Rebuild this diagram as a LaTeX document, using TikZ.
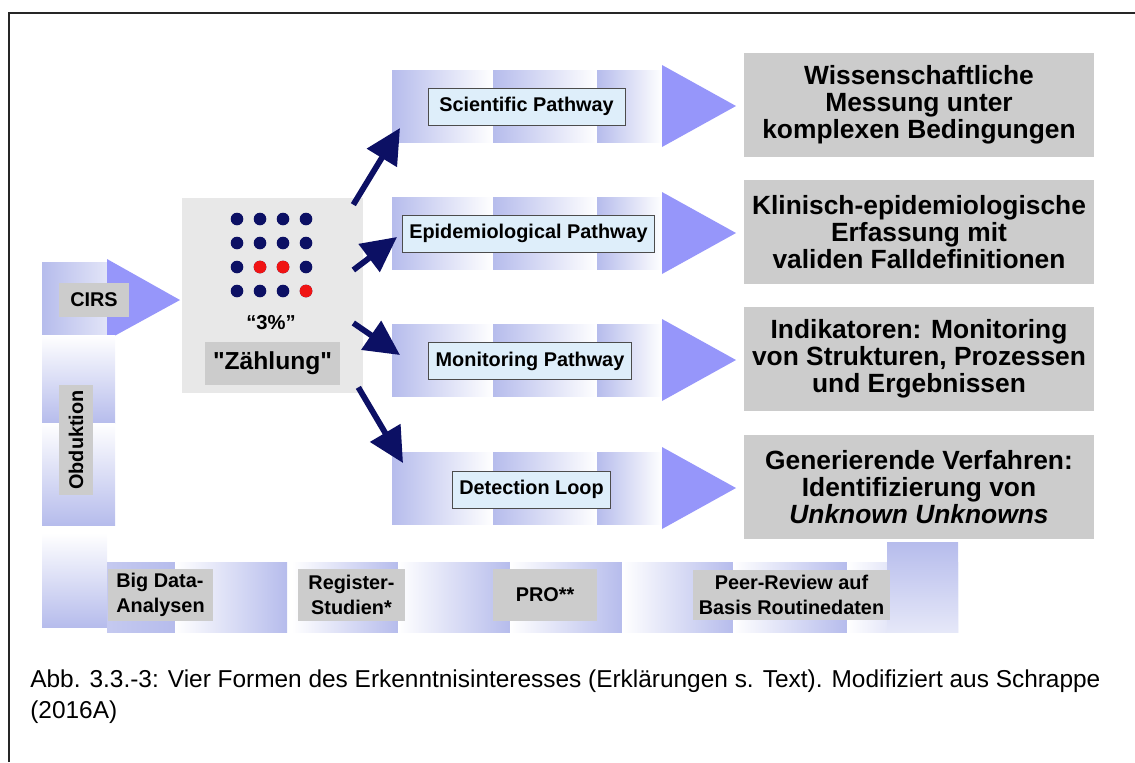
\documentclass[tikz,border=0pt]{standalone}
\usepackage{fontspec}
\setmainfont{Liberation Sans}
\usepackage{tikz}
\usetikzlibrary{arrows.meta,positioning}

\definecolor{blockblue}{RGB}{182,188,236}
\definecolor{headblue}{RGB}{150,150,250}
\definecolor{navy}{RGB}{12,16,100}
\definecolor{labelblue}{RGB}{222,238,250}
\definecolor{boxgrey}{RGB}{204,204,204}
\definecolor{countgrey}{RGB}{232,232,232}
\definecolor{dotred}{RGB}{240,20,20}

\begin{document}
\begin{tikzpicture}[x=0.02cm,y=-0.02cm]
  \tikzstyle{pathlabel}=[rectangle,draw=black!70,fill=labelblue,inner xsep=0.14cm,
                        minimum height=0.74cm,font=\fontsize{11.3}{13}\bfseries]
  \tikzstyle{greybox}=[rectangle,fill=boxgrey,inner sep=0pt,font=\fontsize{11.3}{14}\bfseries]
  \tikzstyle{goal}=[rectangle,fill=boxgrey,inner sep=0pt,minimum width=7cm,minimum height=2.08cm,
                   align=center,font=\fontsize{15}{15.3}\bfseries]
  \tikzstyle{flow}=[navy,line width=3.3pt,-{Triangle[length=0.7cm,width=0.68cm]}]

  \useasboundingbox (0,0) rectangle (1135,762);
  \draw[line width=1.2pt,black!85] (9,762) -- (9,13) -- (1135,13);

  % pathway rows
  \foreach \n/\y in {sci/106,epi/233,mon/360,det/488} {
    \foreach \a/\b in {392/493,493/597,597/662}
      \shade[left color=blockblue,right color=white] (\a,\y-36) rectangle (\b,\y+36);
    \fill[headblue] (662,\y-41) -- (736,\y) -- (662,\y+41) -- cycle;
    \coordinate (\n) at (392,\y);
  }

  % feedback loop
  \shade[left color=blockblue,right color=blockblue!40] (42,262) rectangle (107,335);
  \fill[headblue] (107,259) -- (180,300) -- (107,340) -- cycle;
  \shade[top color=white,bottom color=blockblue] (42,335) rectangle (115,423);
  \shade[top color=white,bottom color=blockblue] (42,423) rectangle (115,525);
  \shade[top color=white,bottom color=blockblue] (42,533) rectangle (107,627);
  \shade[left color=blockblue!80,right color=blockblue] (107,562) rectangle (175,632);
  \foreach \a/\b in {175/287,292/398,398/510,510/622,622/733,733/847,847/958}
    \shade[left color=white,right color=blockblue] (\a,562) rectangle (\b,632);
  \shade[top color=blockblue,bottom color=blockblue!35] (887,542) rectangle (958,632);

  \node[greybox,minimum width=1.42cm,minimum height=0.68cm] (cirs) at (94,300) {CIRS};
  \node[greybox,rotate=90,minimum width=2.2cm,minimum height=0.7cm] (obd) at (76,440) {Obduktion};
  \node[greybox,minimum width=2.1cm,minimum height=1.04cm,align=left] (bigdata) at (160.5,595) {Big Data-\\Analysen};
  \node[greybox,minimum width=2.14cm,minimum height=1.04cm,align=center] (register) at (351.5,595) {Register-\\Studien*};
  \node[greybox,minimum width=2.08cm,minimum height=1.04cm] (pro) at (545,595) {PRO**};
  \node[greybox,minimum width=3.94cm,minimum height=1.0cm,align=center] (peer) at (791.5,595) {Peer-Review auf\\Basis Routinedaten};

  % counting box
  \node[rectangle,fill=countgrey,minimum width=3.62cm,minimum height=3.9cm] (count) at (272.5,295.5) {};
  \foreach \i in {0,...,3}
    \foreach \j in {0,...,3}
      \fill[navy] (237+23*\i,219+24*\j) circle (6.3);
  \foreach \p in {(260,267),(283,267),(306,291)}
    \fill[dotred] \p circle (6.3);
  \node[font=\fontsize{11.5}{13}\bfseries] (pct) at (271,323) {“3\%”};
  \node[greybox,minimum width=2.7cm,minimum height=0.86cm,font=\fontsize{14}{16}\bfseries] (zaehl) at (272.5,363.5)
    {\textquotedbl Zählung\textquotedbl};

  \node[pathlabel,minimum width=3.94cm] (scilab) at (526.5,106.5) {Scientific Pathway};
  \node[pathlabel] (epilab) at (528.5,233.5) {Epidemiological Pathway};
  \node[pathlabel] (monlab) at (530,361) {Monitoring Pathway};
  \node[pathlabel] (detlab) at (531.5,489.5) {Detection Loop};

  \node[goal] (g1) at (919,105) {Wissenschaftliche\\Messung unter\\komplexen Bedingungen};
  \node[goal] (g2) at (919,232) {Klinisch-epidemiologische\\Erfassung mit\\validen Falldefinitionen};
  \node[goal] (g3) at (919,359) {Indikatoren: Monitoring\\von Strukturen, Prozessen\\und Ergebnissen};
  \node[goal] (g4) at (919,487) {Generierende Verfahren:\\Identifizierung von\\\textit{Unknown Unknowns}};

  \draw[flow] ([shift={(-10,7)}]count.north east) -- ([shift={(8,22)}]sci);
  \draw[flow] ([shift={(-10,-25.5)}]count.east) -- ([shift={(5,4)}]epi);
  \draw[flow] ([shift={(-10,27.5)}]count.east) -- ([shift={(8,-5)}]mon);
  \draw[flow] ([shift={(-5,-6)}]count.south east) -- ([shift={(11,-25)}]det);

  \node[anchor=west,inner sep=0pt,align=left,font=\fontsize{13.9}{17.6}\selectfont] (caption) at (30,697)
    {Abb. 3.3.-3: Vier Formen des Erkenntnisinteresses (Erklärungen s. Text). Modifiziert aus Schrappe\\(2016A)};
\end{tikzpicture}
\end{document}
